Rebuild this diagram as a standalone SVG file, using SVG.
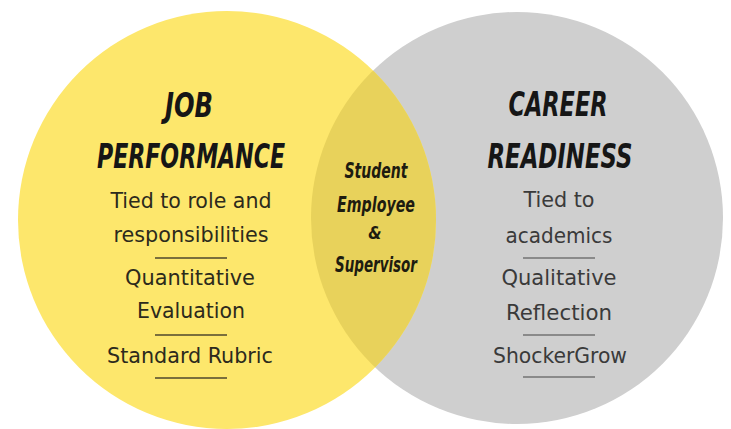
<svg xmlns="http://www.w3.org/2000/svg" width="731" height="429" viewBox="0 0 731 429">
  <defs>
    <clipPath id="clip-left">
      <circle cx="227" cy="220" r="209"/>
    </clipPath>
    <style>
      .head { font-family: "Liberation Sans Narrow", "DejaVu Sans Condensed", "Liberation Sans", sans-serif; font-weight: bold; font-style: italic; font-size: 33px; fill: #161616; text-anchor: middle; }
      .mid  { font-family: "Liberation Sans Narrow", "DejaVu Sans Condensed", "Liberation Sans", sans-serif; font-weight: bold; font-style: italic; font-size: 22px; fill: #1e1c10; text-anchor: middle; }
      .amp  { font-size: 17px; }
      .body { font-family: "Liberation Sans Narrow", "DejaVu Sans Condensed", "Liberation Sans", sans-serif; font-size: 22px; text-anchor: middle; }
      .body-l { fill: #2c2a1c; }
      .body-r { fill: #3a3a3a; }
      .rule { stroke-width: 2; }
      .rule-l { stroke: #7a6f3c; }
      .rule-r { stroke: #8a8a8a; }
    </style>
  </defs>

  <rect width="731" height="429" fill="#ffffff"/>

  <!-- right set: career readiness -->
  <g id="career-readiness">
    <circle cx="517" cy="218" r="206" fill="#cfcfcf"/>
    <text class="head" x="558" y="116" textLength="99" lengthAdjust="spacingAndGlyphs">CAREER</text>
    <text class="head" x="560" y="168" textLength="145" lengthAdjust="spacingAndGlyphs">READINESS</text>
    <text class="body body-r" x="559" y="207" textLength="71" lengthAdjust="spacingAndGlyphs">Tied to</text>
    <text class="body body-r" x="559" y="243" textLength="107" lengthAdjust="spacingAndGlyphs">academics</text>
    <line class="rule rule-r" x1="523" y1="258" x2="595" y2="258"/>
    <text class="body body-r" x="559" y="285" textLength="115" lengthAdjust="spacingAndGlyphs">Qualitative</text>
    <text class="body body-r" x="559" y="320" textLength="106" lengthAdjust="spacingAndGlyphs">Reflection</text>
    <line class="rule rule-r" x1="523" y1="335" x2="595" y2="335"/>
    <text class="body body-r" x="560" y="363" textLength="134" lengthAdjust="spacingAndGlyphs">ShockerGrow</text>
    <line class="rule rule-r" x1="523" y1="377" x2="595" y2="377"/>
  </g>

  <!-- left set: job performance -->
  <g id="job-performance">
    <circle cx="227" cy="220" r="209" fill="#fde76c"/>
    <text class="head" x="189" y="117" textLength="48" lengthAdjust="spacingAndGlyphs">JOB</text>
    <text class="head" x="191" y="168" textLength="188" lengthAdjust="spacingAndGlyphs">PERFORMANCE</text>
    <text class="body body-l" x="191" y="208" textLength="161" lengthAdjust="spacingAndGlyphs">Tied to role and</text>
    <text class="body body-l" x="191" y="242" textLength="155" lengthAdjust="spacingAndGlyphs">responsibilities</text>
    <line class="rule rule-l" x1="155" y1="258" x2="227" y2="258"/>
    <text class="body body-l" x="190" y="285" textLength="130" lengthAdjust="spacingAndGlyphs">Quantitative</text>
    <text class="body body-l" x="191" y="318" textLength="108" lengthAdjust="spacingAndGlyphs">Evaluation</text>
    <line class="rule rule-l" x1="155" y1="335" x2="227" y2="335"/>
    <text class="body body-l" x="190" y="363" textLength="166" lengthAdjust="spacingAndGlyphs">Standard Rubric</text>
    <line class="rule rule-l" x1="155" y1="378" x2="227" y2="378"/>
  </g>

  <!-- shared region of both sets -->
  <g id="overlap">
    <circle cx="517" cy="218" r="206" fill="#e8d25b" clip-path="url(#clip-left)"/>
    <text class="mid" x="376" y="178" textLength="63" lengthAdjust="spacingAndGlyphs">Student</text>
    <text class="mid" x="376" y="212" textLength="78" lengthAdjust="spacingAndGlyphs">Employee</text>
    <text class="mid amp" x="375" y="239">&amp;</text>
    <text class="mid" x="376" y="272" textLength="82" lengthAdjust="spacingAndGlyphs">Supervisor</text>
  </g>
</svg>
